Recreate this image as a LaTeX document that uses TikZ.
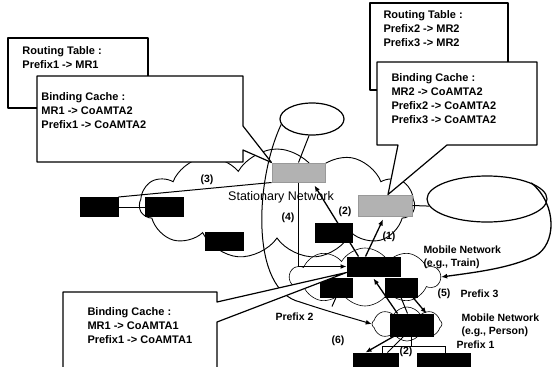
\documentclass[tikz,border=0pt]{standalone}
\usepackage{fontspec}
\setmainfont{Liberation Sans}
\usetikzlibrary{shapes.geometric,shapes.symbols,arrows.meta}

\tikzset{
  blk/.style={draw, fill=black, inner sep=0pt, minimum width=38pt, minimum height=19pt},
  ha/.style={draw=gray!80, fill=gray!60, inner sep=0pt, minimum width=53pt, minimum height=19pt},
  boxtext/.style={anchor=north west, align=left, inner sep=0pt, font=\fontsize{11}{14}\selectfont\bfseries},
  lbl/.style={inner sep=0pt, font=\fontsize{10.5}{13}\selectfont\bfseries},
  arw/.style={-{Latex[length=6pt,width=5pt]}, line width=1.3pt},
  callout/.style={draw, line width=1.2pt, fill=white, line join=round},
}

\begin{document}
\begin{tikzpicture}[x=1pt, y=-1pt, line width=1pt]
        \useasboundingbox (0,0) rectangle (552,367);

        % networks
        \node[cloud, draw, cloud puffs=11, cloud puff arc=120, minimum width=275pt, minimum height=110pt, line width=0.9pt] (St) at (277,204) {};
        \node[cloud, draw, cloud puffs=10, cloud puff arc=120, minimum width=150pt, minimum height=58pt, line width=0.6pt] (Tr) at (365,277) {};
        \node[cloud, draw, cloud puffs=8, cloud puff arc=120, minimum width=70pt, minimum height=34pt, line width=0.6pt] (Ps) at (407,324) {};
        \node[ellipse, draw, line width=1.2pt, minimum width=64pt, minimum height=32pt] (E1) at (312,119) {};
        \node[ellipse, draw, line width=1.2pt, minimum width=120pt, minimum height=46pt] (E2) at (487,199) {};

        % home agents
        \node[ha] (HA1) at (298.5,172.5) {};
        \node[ha, minimum width=54pt, minimum height=21pt] (HA2) at (385,205.5) {};

        % hosts and routers
        \node[blk] (D) at (99,207) {};
        \node[blk] (E) at (164,207) {};
        \node[blk, minimum height=18pt] (F) at (224,241) {};
        \node[blk, minimum width=37pt] (C) at (333.5,232.5) {};
        \node[blk, minimum width=53pt] (MR1) at (373.5,266.5) {};
        \node[blk, minimum width=32pt] (A) at (336,287.5) {};
        \node[blk, minimum width=32pt] (B) at (401,287.5) {};
        \node[blk, minimum width=43pt, minimum height=22pt] (MR2) at (411.5,325) {};
        \node[blk, minimum width=45pt, minimum height=18pt] (G) at (375.5,362) {};
        \node[blk, minimum width=53pt, minimum height=18pt] (H) at (443.5,362) {};

        \draw (E1.260) -- (HA1.north);
        \draw (HA2.east) -- (E2.187);
        \draw (D.north east) -- (HA1.south west);
        \draw (D.east) -- (E.west);
        \draw[arw] (HA1.south) |- (MR1.west);
        \draw[arw] ([xshift=-15pt]MR1.north) -- ([xshift=16pt,yshift=-3pt]HA1.south);
        \draw[arw] ([xshift=-8pt]MR1.north) -- ([xshift=-2pt,yshift=-3pt]HA2.south);
        \draw[arw] ([xshift=-14pt]MR2.north) -- ([yshift=-2pt]MR1.south);
        \draw (B.south) -- ([xshift=-4pt]MR2.north);
        \draw[arw] ([xshift=12pt]B.south) -- ([xshift=15pt]MR2.north);
        \draw[arw] ([xshift=-18pt]MR2.south) -- ([xshift=-10pt]G.north);
        \draw ([xshift=-8pt]MR2.south) -- ([xshift=12pt]G.north);
        \draw (A.south) -- ++(-4,9);

        % prefix 1 bracket
        \coordinate (brL) at (382,346);
        \coordinate (brR) at (445,346);
        \draw (MR2.south) -- (MR2.south |- brL);
        \draw (G.north -| brL) -- (brL) -- (brR) -- (H.north -| brR);

        % movements
        \draw[arw] (E2.20) .. controls (558,205) and (556,245) .. (535,256)
                   .. controls (510,268) and (478,272) .. (Tr.east);
        \draw[-{Latex[length=6pt,width=5pt]}, line width=1pt] (E1.190) .. controls (255,180) and (250,290) .. (300,302)
                   .. controls (330,312) and (352,318) .. (Ps.west);

        % tables
        \draw[callout] (8,38) rectangle (148,108);
        \draw[callout] (37,76) -- (243,76) -- (243,126) -- (HA1.north west) -- (243,150) -- (243,162) -- (37,162) -- cycle;
        \draw[callout] (370,3) rectangle (508,90);
        \draw[callout] (377,62) -- (537,62) -- (537,145) -- (447,145) -- ([xshift=3pt]HA2.north) -- (398,145) -- (377,145) -- cycle;
        \draw[callout] (63,292) -- (217,292) -- (217,302) -- ([yshift=4pt]MR1.south west) -- (217,322) -- (217,372) -- (63,372) -- cycle;

        \node[boxtext] (rt1) at (22,46) {Routing Table :\\Prefix1 -> MR1};
        \node[boxtext] (bc1) at (41,92) {Binding Cache :\\MR1 -> CoAMTA2\\Prefix1 -> CoAMTA2};
        \node[boxtext] (rt2) at (383,10) {Routing Table :\\Prefix2 -> MR2\\Prefix3 -> MR2};
        \node[boxtext] (bc2) at (391,73) {Binding Cache :\\MR2 -> CoAMTA2\\Prefix2 -> CoAMTA2\\Prefix3 -> CoAMTA2};
        \node[boxtext] (bc3) at (87,307) {Binding Cache :\\MR1 -> CoAMTA1\\Prefix1 -> CoAMTA1};

        % labels
        \node[inner sep=0pt, font=\fontsize{12.5}{14}\selectfont] (stn) at (281,197) {Stationary Network};
        \node[lbl] (l3) at (207,180) {(3)};
        \node[lbl] (l4) at (288,218) {(4)};
        \node[lbl] (l2a) at (345,212) {(2)};
        \node[lbl] (l1) at (389,237) {(1)};
        \node[lbl, anchor=north west, align=left] (trn) at (423,245) {Mobile Network\\(e.g., Train)};
        \node[lbl] (l5) at (444,294) {(5)};
        \node[lbl, anchor=west] (p3) at (460,294) {Prefix 3};
        \node[lbl, anchor=east] (p2) at (314,317) {Prefix 2};
        \node[lbl, anchor=north west, align=left] (prs) at (461,313) {Mobile Network\\(e.g., Person)};
        \node[lbl] (l6) at (338,341) {(6)};
        \node[lbl, anchor=west] (p1) at (456,345) {Prefix 1};
        \node[lbl] (l2b) at (406,352) {(2)};
      \end{tikzpicture}
\end{document}
